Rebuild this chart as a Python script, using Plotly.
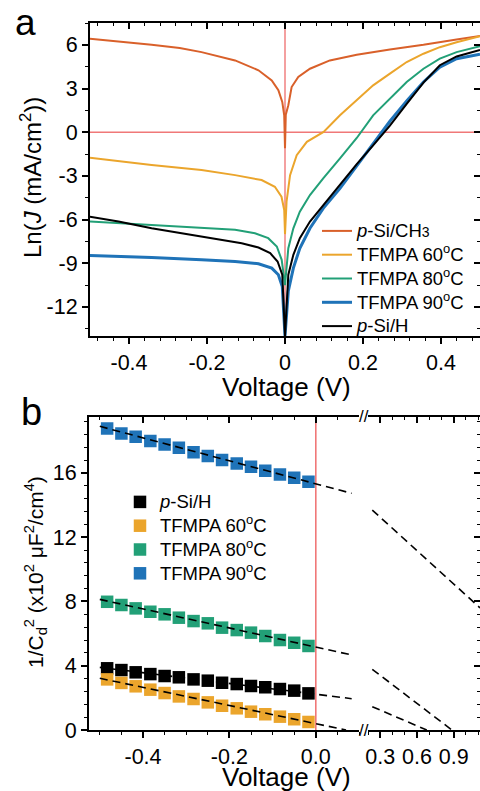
import plotly.graph_objects as go

W, H = 480, 791
FONT = "Liberation Sans, Arial, sans-serif"

# ---------------- Panel a data: Ln(J) vs Voltage ----------------
V_ch3 = [-0.5, -0.42, -0.342, -0.27, -0.214, -0.128, -0.068, -0.034, -0.017, -0.007, -0.002, 0.0,
         0.002, 0.0085, 0.017, 0.034, 0.064, 0.115, 0.184, 0.269, 0.355, 0.44, 0.5]
L_ch3 = [6.42, 6.22, 6.0, 5.78, 5.5, 4.93, 4.25, 3.56, 2.88, 2.08, 1.16, -1.1,
         1.2, 1.85, 3.1, 3.79, 4.36, 4.93, 5.32, 5.68, 6.0, 6.37, 6.6]

V_60 = [-0.5, -0.342, -0.214, -0.128, -0.06, -0.026, -0.009, -0.002, 0.0,
        0.004, 0.013, 0.03, 0.056, 0.099, 0.141, 0.184, 0.226, 0.269, 0.312, 0.355, 0.397, 0.44, 0.5]
L_60 = [-1.75, -2.26, -2.6, -2.95, -3.29, -3.75, -4.43, -5.34, -7.0,
        -4.77, -2.95, -1.58, -0.66, 0.02, 1.16, 2.19, 3.22, 4.02, 4.82, 5.39, 5.84, 6.18, 6.6]

V_80 = [-0.5, -0.342, -0.214, -0.128, -0.077, -0.043, -0.021, -0.0085, 0.0,
        0.0085, 0.0214, 0.038, 0.064, 0.098, 0.141, 0.184, 0.226, 0.269, 0.312, 0.355, 0.397, 0.44, 0.5]
L_80 = [-6.14, -6.37, -6.55, -6.71, -6.94, -7.28, -7.85, -8.77, -10.5,
        -7.97, -6.6, -5.46, -4.32, -3.17, -1.8, -0.4, 1.16, 2.3, 3.45, 4.36, 5.05, 5.5, 5.9]

V_90 = [-0.5, -0.342, -0.214, -0.128, -0.068, -0.034, -0.017, -0.007, 0.0,
        0.0085, 0.0214, 0.038, 0.064, 0.098, 0.141, 0.184, 0.226, 0.255, 0.269, 0.312, 0.355, 0.397, 0.44, 0.5]
L_90 = [-8.47, -8.6, -8.77, -8.88, -9.04, -9.34, -9.79, -10.6, -14.0,
        -10.9, -9.34, -7.97, -6.6, -5.23, -3.86, -2.3, -0.8, 0.3, 0.75, 2.15, 3.45, 4.47, 5.05, 5.35]

V_H = [-0.5, -0.427, -0.342, -0.256, -0.171, -0.111, -0.068, -0.038, -0.019, -0.007, 0.0,
       0.0085, 0.0214, 0.038, 0.064, 0.098, 0.141, 0.184, 0.226, 0.255, 0.269, 0.312, 0.355, 0.397, 0.44, 0.5]
L_H = [-5.8, -6.14, -6.6, -6.99, -7.35, -7.63, -7.92, -8.31, -8.88, -9.79, -14.0,
       -9.79, -8.42, -7.28, -6.14, -5.0, -3.63, -2.2, -0.9, 0.0, 0.45, 1.95, 3.4, 4.6, 5.2, 5.65]

# ---------------- Panel b data: Mott-Schottky ----------------
V_cv = [-0.483, -0.45, -0.417, -0.383, -0.35, -0.317, -0.283, -0.25, -0.217, -0.183,
        -0.15, -0.117, -0.083, -0.05, -0.017]
C_H = [3.84, 3.73, 3.59, 3.48, 3.36, 3.28, 3.15, 3.07, 2.94, 2.86, 2.74, 2.66, 2.55, 2.45, 2.28]
C_60 = [3.15, 2.93, 2.72, 2.51, 2.3, 2.09, 1.93, 1.72, 1.51, 1.35, 1.14, 0.98, 0.83, 0.67, 0.5]
C_80 = [7.98, 7.78, 7.57, 7.36, 7.2, 6.99, 6.78, 6.64, 6.37, 6.22, 6.06, 5.85, 5.6, 5.43, 5.23]
C_90 = [18.77, 18.46, 18.25, 17.98, 17.77, 17.56, 17.28, 17.05, 16.8, 16.59, 16.38, 16.13, 15.91, 15.7, 15.45]

# linear fits (left segment)
fitV_H, fit_H = [-0.5, 0.083], [3.9, 1.95]
fitV_60, fit_60 = [-0.5, 0.07], [3.22, 0.0]
fitV_80, fit_80 = [-0.5, 0.083], [8.13, 4.67]
fitV_90, fit_90 = [-0.5, 0.083], [18.9, 14.73]
# extrapolations (right segment, after axis break)
extV_H, ext_H = [0.235, 0.68], [1.45, 0.0]
extV_80, ext_80 = [0.235, 0.885], [3.78, 0.0]
extV_90, ext_90 = [0.235, 1.115], [13.69, 7.6]

# ticks
xa_vals = [-0.4, -0.2, 0, 0.2, 0.4]
xa_text = ["-0.4", "-0.2", "0", "0.2", "0.4"]
ya_vals = [-12, -9, -6, -3, 0, 3, 6]
ya_text = ["-12", "-9", "-6", "-3", "0", "3", "6"]
xb_vals = [-0.4, -0.2, 0.0]
xb_text = ["-0.4", "-0.2", "0.0"]
xc_vals = [0.3, 0.6, 0.9]
xc_text = ["0.3", "0.6", "0.9"]
yb_vals = [0, 4, 8, 12, 16]
yb_text = ["0", "4", "8", "12", "16"]

COL_CH3 = "#D9602A"
COL_60 = "#EBA52C"
COL_80 = "#22A077"
COL_90 = "#1F73B8"
COL_H = "#000000"
RED = "#F07878"

def px_x(p):
    return p / W

def px_y(p):
    return 1 - p / H

def big(s):
    return "<span style='font-size:18.5px'>" + s + "</span>"

fig = go.Figure()

sup_o = "<sup>o</sup>"
names_a = [
    (big("<i>p</i>-Si/CH") + "<span style='font-size:14px'>3</span>", V_ch3, L_ch3, COL_CH3, 2),
    (big("TFMPA 60" + sup_o + "C"), V_60, L_60, COL_60, 2),
    (big("TFMPA 80" + sup_o + "C"), V_80, L_80, COL_80, 2),
    (big("TFMPA 90" + sup_o + "C"), V_90, L_90, COL_90, 3),
    (big("<i>p</i>-Si/H"), V_H, L_H, COL_H, 2),
]
for nm, vx, vy, c, w in names_a:
    fig.add_trace(go.Scatter(x=vx, y=vy, mode="lines", name=nm,
                             line=dict(color=c, width=w), xaxis="x", yaxis="y",
                             legend="legend"))

names_b = [
    (big("<i>p</i>-Si/H"), C_H, COL_H),
    (big("TFMPA 60" + sup_o + "C"), C_60, COL_60),
    (big("TFMPA 80" + sup_o + "C"), C_80, COL_80),
    (big("TFMPA 90" + sup_o + "C"), C_90, COL_90),
]
for nm, vy, c in names_b:
    fig.add_trace(go.Scatter(x=V_cv, y=vy, mode="markers", name=nm,
                             marker=dict(symbol="square", size=12.5, color=c, line=dict(width=0)),
                             xaxis="x2", yaxis="y2", legend="legend2"))

DASH = "8px,5px"
for vx, vy in [(fitV_H, fit_H), (fitV_60, fit_60), (fitV_80, fit_80), (fitV_90, fit_90)]:
    fig.add_trace(go.Scatter(x=vx, y=vy, mode="lines", showlegend=False,
                             line=dict(color="black", width=1.6, dash=DASH),
                             xaxis="x2", yaxis="y2"))
for vx, vy in [(extV_H, ext_H), (extV_80, ext_80), (extV_90, ext_90)]:
    fig.add_trace(go.Scatter(x=vx, y=vy, mode="lines", showlegend=False,
                             line=dict(color="black", width=1.6, dash=DASH),
                             xaxis="x3", yaxis="y2"))

# empty traces so the overlay (mirror-tick) axes get drawn
for xa, ya in [("x4", "y"), ("x", "y4"), ("x5", "y2"), ("x6", "y2"), ("x3", "y5")]:
    fig.add_trace(go.Scatter(x=[], y=[], showlegend=False, xaxis=xa, yaxis=ya))

tickfont = dict(family=FONT, size=21.5, color="black")
base = dict(showgrid=False, showline=True, linecolor="black", linewidth=2, zeroline=False,
            ticks="outside", ticklen=6, tickwidth=1.6, tickcolor="black",
            tickfont=tickfont, automargin=False, fixedrange=True)
inside = dict(showgrid=False, showline=False, zeroline=False, ticks="inside", ticklen=6,
              tickwidth=1.6, tickcolor="black", showticklabels=False, automargin=False)

def minor(dt, direction="outside"):
    return dict(ticks=direction, ticklen=3, tickwidth=1.2, tickcolor="black",
                dtick=dt, tick0=0, showgrid=False)

dom_a = [px_y(336), px_y(23)]
dom_b = [px_y(730), px_y(416.7)]

LEG_FS = 16

fig.update_layout(
    width=W, height=H, margin=dict(l=0, r=0, t=0, b=0),
    paper_bgcolor="white", plot_bgcolor="white",
    font=dict(family=FONT, color="black"),
    xaxis=dict(base, domain=[px_x(90), 1], anchor="y", range=[-0.5, 0.5],
               tickmode="array", tickvals=xa_vals, ticktext=xa_text, mirror=True,
               minor=minor(0.04)),
    yaxis=dict(base, domain=dom_a, anchor="x", range=[-14, 7.5],
               tickmode="array", tickvals=ya_vals, ticktext=ya_text, mirror=True,
               minor=minor(1.5)),
    xaxis4=dict(inside, overlaying="x", side="top", anchor="y", range=[-0.5, 0.5],
                tickmode="array", tickvals=xa_vals, minor=minor(0.04, "inside")),
    yaxis4=dict(inside, overlaying="y", side="right", anchor="x", range=[-14, 7.5],
                tickmode="array", tickvals=ya_vals, minor=minor(1.5, "inside")),
    xaxis2=dict(base, domain=[px_x(89), px_x(359)], anchor="y2", range=[-0.525, 0.1],
                tickmode="array", tickvals=xb_vals, ticktext=xb_text, mirror=True,
                minor=minor(0.05)),
    xaxis3=dict(base, domain=[px_x(368), 1], anchor="y2", range=[0.2, 1.115],
                tickmode="array", tickvals=xc_vals, ticktext=xc_text, mirror=True,
                minor=minor(0.1)),
    yaxis2=dict(base, domain=dom_b, anchor="x2", range=[0, 19.5],
                tickmode="array", tickvals=yb_vals, ticktext=yb_text, mirror=False,
                minor=minor(0.8)),
    xaxis5=dict(inside, overlaying="x2", side="top", anchor="y2", range=[-0.525, 0.1],
                tickmode="array", tickvals=xb_vals, minor=minor(0.05, "inside")),
    xaxis6=dict(inside, overlaying="x3", side="top", anchor="y2", range=[0.2, 1.115],
                tickmode="array", tickvals=xc_vals, minor=minor(0.1, "inside")),
    yaxis5=dict(inside, overlaying="y2", side="right", anchor="x3", range=[0, 19.5],
                tickmode="array", tickvals=yb_vals, minor=minor(0.8, "inside"),
                showline=True, linecolor="black", linewidth=2),
    legend=dict(x=px_x(317), y=px_y(214), xanchor="left", yanchor="top",
                bgcolor="rgba(0,0,0,0)", font=dict(family=FONT, size=LEG_FS, color="black"),
                tracegroupgap=0, itemclick=False),
    legend2=dict(x=px_x(120), y=px_y(485), xanchor="left", yanchor="top",
                 bgcolor="rgba(0,0,0,0)", font=dict(family=FONT, size=LEG_FS, color="black"),
                 tracegroupgap=0, itemclick=False),
    showlegend=True,
)

# red reference lines at V = 0 and Ln J = 0
fig.add_shape(type="line", xref="x", yref="y domain", x0=0, x1=0, y0=0, y1=1,
              line=dict(color=RED, width=1.4), layer="below")
fig.add_shape(type="line", xref="x domain", yref="y", x0=0, x1=1, y0=0, y1=0,
              line=dict(color=RED, width=1.4), layer="below")
fig.add_shape(type="line", xref="x2", yref="y2 domain", x0=0, x1=0, y0=0, y1=1,
              line=dict(color=RED, width=1.6), layer="below")

ann = []
ann.append(dict(text="a", x=px_x(25), y=1, xref="paper", yref="paper",
                showarrow=False, xanchor="center", yanchor="top",
                font=dict(family=FONT, size=37, color="black")))
ann.append(dict(text="b", x=px_x(31), y=px_y(412), xref="paper", yref="paper",
                showarrow=False, xanchor="center", yanchor="middle",
                font=dict(family=FONT, size=38, color="black")))
ann.append(dict(text="Voltage (V)", x=px_x(286), y=px_y(387), xref="paper", yref="paper",
                showarrow=False, xanchor="center", yanchor="middle",
                font=dict(family=FONT, size=26, color="black")))
ann.append(dict(text="Voltage (V)", x=px_x(286), y=px_y(777), xref="paper", yref="paper",
                showarrow=False, xanchor="center", yanchor="middle",
                font=dict(family=FONT, size=26, color="black")))
ann.append(dict(text="Ln(<i>J</i> (mA/cm<sup>2</sup>))", x=px_x(31), y=px_y(178),
                xref="paper", yref="paper", showarrow=False, textangle=-90,
                xanchor="center", yanchor="middle",
                font=dict(family=FONT, size=24, color="black")))
ann.append(dict(text="1/C<sub>d</sub><sup>2</sup> (x10<sup>2</sup> \u03bcF<sup>2</sup>/cm<sup>4</sup>)",
                x=px_x(35), y=px_y(572), xref="paper", yref="paper", showarrow=False,
                textangle=-90, xanchor="center", yanchor="middle",
                font=dict(family=FONT, size=21, color="black")))
for yy in [416.7, 730]:
    ann.append(dict(text="//", x=px_x(363.5), y=px_y(yy), xref="paper", yref="paper",
                    showarrow=False, xanchor="center", yanchor="middle",
                    font=dict(family=FONT, size=17, color="black")))
fig.update_layout(annotations=ann)

fig.write_html("out.html")
